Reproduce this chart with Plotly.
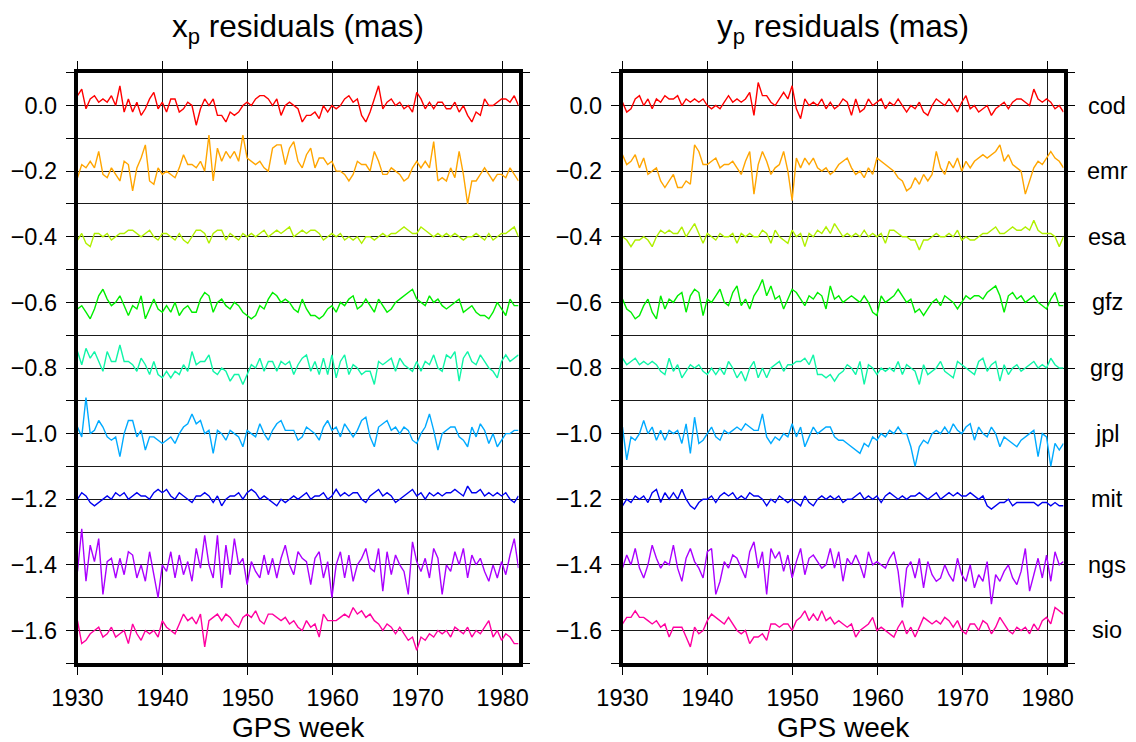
import numpy as np
import plotly.graph_objects as go

# ---------------- data (residuals in units of 0.01 mas, sampled ~every half GPS week) -------------
STATIONS = ["cod", "emr", "esa", "gfz", "grg", "jpl", "mit", "ngs", "sio"]
OFFSETS = [0.0, -0.2, -0.4, -0.6, -0.8, -1.0, -1.2, -1.4, -1.6]
WEEK_START, WEEK_END = 1930.0, 1981.857
X_TICKS = [1930, 1940, 1950, 1960, 1970, 1980]
Y_TICKS = [0.0, -0.2, -0.4, -0.6, -0.8, -1.0, -1.2, -1.4, -1.6]
Y_TICKTEXT = ["0.0", "−0.2", "−0.4", "−0.6", "−0.8", "−1.0", "−1.2", "−1.4", "−1.6"]
Y_MINOR = [0.1, -0.1, -0.3, -0.5, -0.7, -0.9, -1.1, -1.3, -1.5, -1.7]

cod_xp = [3,5,-1,2,3,1,2,1,3,0, 6,-2,2,-2,1,-3,-1,2,4,-1, 1,-2,2,2,-2,-1,1,0,-6,-1,
          2,0,2,-3,-3,-5,-2,-3,-2,0, 1,0,2,3,3,2,0,2,-3,0, 1,0,-1,-5,-3,-3,-2,-4,0,-2,
          0,-1,0,2,3,1,2,-3,-5,-2, 2,6,-1,1,2,0,1,-1,0,-2, 4,2,-1,1,-1,1,1,-1,-1,1,
          -2,0,-3,-5,-2,-3,2,0,0,1, 2,2,1,3,0]
emr_xp = [-2,2,1,3,1,6,-1,-2,1,-1, -3,3,2,-6,1,4,8,-3,-4,1, -1,0,-1,-2,1,5,2,2,1,3,
          0,11,-3,7,3,6,4,6,3,11, 4,3,2,3,1,0,7,8,8,2, 7,9,3,1,5,7,1,4,4,2,
          3,0,0,-1,-3,-1,3,2,2,0, 6,3,-1,-1,1,0,-1,-3,-2,1, 3,1,3,1,9,-3,-2,-3,1,-2,
          6,-1,-10,-3,-3,-1,1,-1,-3,-1, -1,-2,1,-1,-3]
esa_xp = [-1,1,-2,-3,1,1,0,1,-1,0, 1,1,2,2,1,0,1,2,0,-1, 1,1,0,-1,1,-1,-2,0,2,2,
          1,-2,1,2,2,-1,1,0,-1,1, 0,1,0,1,2,0,1,2,1,2, 3,0,1,2,1,2,2,1,-1,0,
          1,0,1,-1,0,-1,0,-2,0,0, -1,0,1,0,1,1,2,3,2,1, 1,3,2,1,0,1,0,1,0,1,
          0,-1,0,0,1,0,-1,1,-1,0, 1,1,2,3,0]
gfz_xp = [-2,-1,-3,-5,-2,2,4,1,-1,0, 2,-1,-4,-1,-2,2,-5,-2,1,-2, -3,-1,-3,0,-4,-2,-1,-3,-3,1,
          3,2,-3,0,1,-1,-2,0,-1,-3, -4,-5,-4,-1,-2,1,3,2,0,1, 0,-2,-3,1,-2,-4,-4,-5,-4,-2,
          -1,-3,0,-1,1,2,-2,-1,1,-1, -3,1,-1,-3,-2,0,1,2,3,4, 1,0,-1,2,0,1,-1,-2,-1,0,
          1,-3,-2,-1,-3,-4,-4,-5,-3,0, -2,-4,1,-1,-1]
grg_xp = [5,1,6,3,5,2,-1,5,2,2, 7,2,2,1,-1,3,1,-2,2,-2, -3,-1,-3,-1,-2,1,-1,5,1,2,
          2,4,-1,-2,0,-1,-4,-2,-2,-5, -2,1,0,3,-1,2,2,-1,2,1, 2,-2,1,3,4,-1,2,-2,3,-2,
          4,-3,2,4,-2,1,0,-2,-1,-1, -5,2,1,2,3,-1,3,1,0,-1, 2,-1,2,1,4,0,-1,4,3,5,
          -4,3,5,2,1,4,2,0,-1,-3, 2,4,2,3,4]
jpl_xp = [2,-1,11,0,1,4,2,-1,-2,-1, -7,0,4,4,-1,1,-5,-1,-1,-2, -3,-2,-1,-3,0,2,3,6,3,4,
          0,1,-6,1,0,-2,1,0,-1,-4, 1,0,-1,3,0,-2,1,3,4,1, 1,1,-2,-1,2,1,0,-2,2,4,
          1,2,-1,3,1,-1,1,4,5,-1, -4,2,3,4,1,2,0,2,1,-2, -3,0,2,6,1,-5,0,1,2,2,
          -1,-2,-4,2,-1,3,1,-3,0,-4, -2,0,0,1,1]
mit_xp = [0,2,1,-1,-2,-1,0,1,0,2, 1,2,0,1,2,1,1,0,2,3, 2,3,1,0,2,1,0,-1,1,1,
          2,1,-1,1,-2,0,1,1,2,0, 2,3,2,0,1,0,-1,-2,0,-1, 0,1,0,1,2,0,1,1,2,0,
          1,3,1,2,1,2,2,0,-1,1, 2,3,1,2,1,-1,0,1,2,3, 1,2,0,2,1,2,1,2,2,3,
          2,1,4,2,2,3,1,2,1,2, 1,2,0,-1,1]
ngs_xp = [-2,11,-5,6,1,8,-9,1,2,-4, 2,-3,4,3,-4,0,-5,4,-3,-10, 0,-2,4,-4,3,-3,1,-5,5,-1,
          9,0,-4,9,-7,6,-3,8,0,2, -6,1,-2,-4,3,-3,2,-4,2,6, 0,-3,4,2,1,-6,2,4,-4,1,
          -10,0,4,-4,3,-5,0,2,5,-1, -2,5,-8,4,-3,3,0,-2,-9,7, 1,-2,2,-4,5,2,-9,0,-2,4,
          0,5,-4,3,0,2,-2,-5,0,-4, 1,-3,3,8,-1]
sio_xp = [3,-4,-3,-1,0,1,-2,-1,1,-2, -1,0,-4,2,-1,-3,0,-1,0,-2, 3,1,0,-1,2,5,3,4,2,5,
          -5,3,4,5,3,5,4,2,1,4, 5,4,6,3,2,5,5,4,3,4, 2,3,1,0,3,1,2,-2,5,3,
          3,3,4,5,4,7,5,6,4,5, 3,2,0,2,1,-1,1,-1,-3,-2, -6,-2,-3,-1,-2,0,-1,0,-2,1,
          0,-1,1,-2,0,-1,1,3,-2,0, -3,-1,-2,-4,-4]

cod_yp = [1,-2,-1,2,3,0,2,-1,2,1, 3,2,2,3,0,2,1,2,1,2, 0,-1,0,-1,1,3,1,2,1,2,
          4,-3,7,3,3,1,0,2,4,2, 6,-1,-4,2,0,1,0,2,-1,1, -1,0,2,1,-3,2,-2,-1,2,0,
          1,2,-1,1,0,2,0,-2,0,-1, 1,-2,-3,0,2,1,0,2,0,-2, 1,3,-1,0,-2,-1,0,-3,-1,0,
          1,-1,1,2,2,1,0,5,2,1, 2,1,-1,0,-2]
emr_yp = [5,2,3,5,1,4,-1,0,1,-3, -5,-3,-1,-5,-5,-3,-4,8,6,2, 2,3,4,1,2,2,3,1,-1,3,
          6,-7,2,6,3,-1,1,2,6,0, -9,4,1,4,2,4,1,0,1,-1, 0,2,3,4,1,-1,0,-2,1,-1,
          4,3,2,1,0,-2,-3,-6,-5,-2, -4,-1,-3,-1,6,1,-1,3,1,4, 0,3,1,3,4,5,4,5,6,8,
          3,5,2,1,0,-7,-3,1,3,2, 4,6,4,3,1]
esa_yp = [0,-1,-3,-1,-1,0,-1,-3,0,2, 1,2,1,1,3,0,2,4,1,-2, 1,0,-1,1,0,0,1,-2,1,0,
          1,0,0,2,1,-2,2,0,-1,-2, 2,0,1,-3,1,0,2,1,3,1, 4,2,0,1,0,1,0,2,0,1,
          0,1,-2,2,2,1,0,0,-1,-1, -4,-1,-1,0,1,0,0,1,0,2, -1,0,-1,-1,0,1,1,2,3,1,
          1,2,3,2,2,3,2,5,2,1, 1,1,0,-3,0]
gfz_yp = [1,-2,-3,-5,-4,-1,1,-3,-5,2, -2,1,0,2,3,-3,2,4,3,-4, 1,0,2,4,0,-1,3,5,-1,1,
          -2,2,4,7,2,5,1,2,-2,1, 4,3,1,-1,2,1,3,2,-2,5, 1,2,0,1,2,1,0,2,0,-3,
          -4,2,0,1,2,4,2,0,1,-3, -2,-4,-2,0,1,-1,2,1,0,-2, 0,2,1,2,2,1,3,4,5,2,
          -3,2,3,1,2,0,1,2,0,-1, -2,1,3,-1,-1]
grg_yp = [3,1,2,3,1,2,1,2,1,-1, -2,3,-1,1,-3,-1,1,0,1,-1, -2,0,-2,0,-2,2,0,-3,-1,-4,
          0,2,-3,0,-3,0,1,2,-1,1, 1,2,2,3,1,4,-2,-2,-3,-2, -4,-2,-1,1,0,-2,2,-5,1,0,
          -2,0,-1,0,-1,2,-2,1,0,-1, -5,1,-2,-1,0,2,-1,-2,-3,2, 1,0,-1,-2,2,3,-1,1,2,-4,
          1,-2,0,1,-1,0,1,2,0,1, 0,3,1,0,0]
jpl_yp = [2,-8,-1,-2,0,4,0,2,-2,1, -2,1,0,1,-3,3,-6,5,-3,-2, 0,2,-1,-2,1,0,1,2,1,3,
          2,1,1,6,-1,-3,-1,-2,0,-1, 3,-1,2,-4,-1,2,0,1,2,2, -1,-2,-2,-3,-4,-5,-6,-3,-4,-1,
          -2,0,-1,1,0,2,0,0,-4,-10, -4,-2,-3,0,1,0,2,0,3,1, 0,2,3,-2,2,0,-1,2,0,-4,
          -1,-2,-3,-4,-2,-1,0,1,-7,0, -1,-10,-3,-5,-3]
mit_yp = [-2,0,-1,1,0,1,-1,2,3,-1, 2,0,2,0,3,0,-2,-3,-1,0, 0,1,-1,1,2,1,2,0,1,0,
          2,1,1,0,-2,0,-1,1,0,-1, 0,-1,-2,1,-1,-2,0,1,0,1, 0,1,-1,0,0,1,2,0,1,0,
          1,-1,1,2,1,0,1,0,1,1, 2,1,0,1,2,0,1,2,1,2, 1,1,2,1,0,1,-2,-3,-2,-1,
          -1,0,-2,-1,-1,-1,-1,-1,-2,-1, -1,-2,-1,-2,-2]
ngs_yp = [-1,3,0,5,-1,-4,0,6,2,-1, 1,0,6,-1,-5,2,5,1,-1,-4, 4,5,-9,-5,1,-1,3,2,-1,-4,
          4,7,-1,4,-9,5,2,4,-2,3, -4,1,5,-3,2,3,1,-1,0,5, -1,4,-5,2,0,3,0,-4,4,0,
          1,0,-1,2,4,-2,-13,-1,1,-4, 2,-7,1,-3,-5,-4,0,-3,-5,2, -3,-5,0,-7,-3,-5,1,-12,-3,-5,
          -2,0,-4,-6,-2,5,-8,-3,2,-4, 3,-5,4,0,1]
sio_yp = [2,4,4,6,4,4,3,2,3,1, 2,-2,1,1,1,-2,-5,1,-1,0, 3,5,4,3,2,4,2,0,-1,0,
          -4,-2,-2,-1,-3,2,2,1,2,2, 0,3,4,6,3,5,3,6,3,4, 2,3,2,1,2,-2,0,1,2,4,
          0,1,0,-1,-2,1,3,-1,1,-2, 1,4,3,2,3,2,4,3,1,3, 0,-1,2,2,0,3,2,-1,1,4,
          2,0,-1,1,0,1,-1,2,0,3, 4,2,7,6,5]

XP = [cod_xp, emr_xp, esa_xp, gfz_xp, grg_xp, jpl_xp, mit_xp, ngs_xp, sio_xp]
YP = [cod_yp, emr_yp, esa_yp, gfz_yp, grg_yp, jpl_yp, mit_yp, ngs_yp, sio_yp]

COLORS = ["#ff0000", "#ffa500", "#b0f000", "#00ee00", "#10f5a8",
          "#00aaff", "#0000f0", "#aa00ff", "#ff00a0"]

FONT = "Liberation Sans, Arial, Helvetica, sans-serif"

fig = go.Figure()

for series_set, xa, ya in [(XP, "x", "y"), (YP, "x2", "y2")]:
    for name, vals, off, col in zip(STATIONS, series_set, OFFSETS, COLORS):
        v = np.asarray(vals, dtype=float) / 100.0
        w = np.linspace(WEEK_START, WEEK_END, len(v))
        fig.add_trace(go.Scatter(x=w, y=v + off, mode="lines", name=name,
                                 line=dict(color=col, width=1.4),
                                 xaxis=xa, yaxis=ya, showlegend=False,
                                 hoverinfo="skip"))

# page has an 8 px body margin -> place everything 8 px up/left in figure coordinates
W, H, S = 1136, 742, 8
def px(xr):
    return (xr - S) / W
def py(yr):
    return 1 - (yr - S) / H

L_DOM = [px(77.5), px(518.5)]
R_DOM = [px(622.5), px(1063.5)]
Y_DOM = [py(663.3), py(72.7)]

GRID = "#1a1a1a"
TICKFONT = dict(size=23.5, color="black", family=FONT)
common_x = dict(range=[WEEK_START, WEEK_END], tickvals=X_TICKS,
                ticktext=[str(t) for t in X_TICKS],
                showgrid=True, gridcolor=GRID, gridwidth=1,
                showline=True, linecolor="black", linewidth=3.5, mirror="allticks",
                ticks="outside", ticklen=8, tickwidth=1, tickcolor="black",
                tickfont=TICKFONT, ticklabelstandoff=3,
                zeroline=False, automargin=False)
common_y = dict(range=[-1.7, 0.1], tickvals=Y_TICKS, ticktext=Y_TICKTEXT,
                showgrid=True, gridcolor=GRID, gridwidth=1,
                showline=True, linecolor="black", linewidth=3.5, mirror="allticks",
                ticks="outside", ticklen=8, tickwidth=1, tickcolor="black",
                tickfont=TICKFONT, ticklabelstandoff=4,
                minor=dict(tickmode="array", tickvals=Y_MINOR, ticks="outside",
                           ticklen=8, tickwidth=1, tickcolor="black",
                           showgrid=True, gridcolor=GRID, gridwidth=1),
                zeroline=False, automargin=False, domain=Y_DOM)

xa1 = dict(common_x); xa1.update(domain=L_DOM, anchor="y")
xa2 = dict(common_x); xa2.update(domain=R_DOM, anchor="y2")
ya1 = dict(common_y); ya1.update(anchor="x")
ya2 = dict(common_y); ya2.update(anchor="x2")

annotations = []
for dom, txt in [(L_DOM, "x<sub>p</sub> residuals (mas)"), (R_DOM, "y<sub>p</sub> residuals (mas)")]:
    cx = (dom[0] + dom[1]) / 2
    annotations.append(dict(x=cx, y=py(29), xref="paper", yref="paper",
                            text=txt, showarrow=False, xanchor="center", yanchor="middle",
                            font=dict(size=31.5, color="black", family=FONT)))
    annotations.append(dict(x=cx, y=py(727), xref="paper", yref="paper",
                            text="GPS week", showarrow=False, xanchor="center", yanchor="middle",
                            font=dict(size=28, color="black", family=FONT)))
for name, off in zip(STATIONS, OFFSETS):
    annotations.append(dict(x=px(1107), y=off, xref="paper", yref="y2", text=name,
                            showarrow=False, xanchor="center", yanchor="middle",
                            font=dict(size=23.5, color="black", family=FONT)))

fig.update_layout(width=W, height=H, margin=dict(l=0, r=0, t=0, b=0, pad=0),
                  template="none", paper_bgcolor="white", plot_bgcolor="white",
                  font=dict(family=FONT, color="black"),
                  xaxis=xa1, xaxis2=xa2, yaxis=ya1, yaxis2=ya2,
                  annotations=annotations, showlegend=False)

fig.write_html("out.html")
